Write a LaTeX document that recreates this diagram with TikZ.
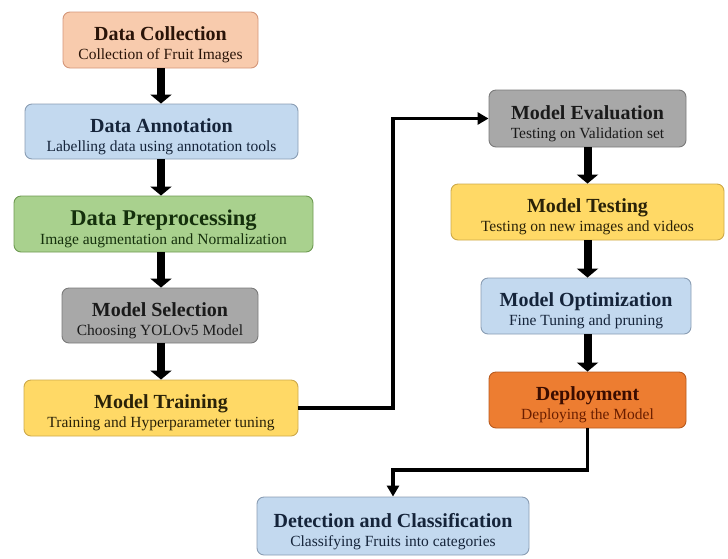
\documentclass[tikz,border=0pt]{standalone}
\usepackage{fontspec}
\setmainfont{Liberation Serif}
\usetikzlibrary{arrows.meta}

% box fills, borders and text colours
\definecolor{peachF}{HTML}{F8CBAD}\definecolor{peachD}{HTML}{D4977A}\definecolor{peachT}{HTML}{2A1408}
\definecolor{blueF}{HTML}{C3D9EF}\definecolor{blueD}{HTML}{8A9DB3}\definecolor{blueT}{HTML}{15243A}
\definecolor{greenF}{HTML}{A9D18E}\definecolor{greenD}{HTML}{6E9A52}\definecolor{greenT}{HTML}{15300C}
\definecolor{grayF}{HTML}{A8A8A8}\definecolor{grayD}{HTML}{7A7A7A}\definecolor{grayT}{HTML}{1A1A1A}
\definecolor{yellowF}{HTML}{FFD966}\definecolor{yellowD}{HTML}{CDA94A}\definecolor{yellowT}{HTML}{2A2208}
\definecolor{orangeF}{HTML}{ED7D31}\definecolor{orangeD}{HTML}{B85A1E}\definecolor{orangeT}{HTML}{3A0C00}
\definecolor{orangeS}{HTML}{6A1E00}

% title line and description line of a stage box
\newcommand{\stagetext}[2]{{\fontsize{20}{19}\selectfont\bfseries #1}\\{#2}}

\tikzset{
  stage/.style={rectangle, rounded corners=7pt, line width=0.9pt, align=center,
    inner sep=0pt, minimum height=56pt, font=\fontsize{15.5}{19}\selectfont,
    text depth=0pt},
  boxtext/.style={yshift=-3.5pt},
  peach/.style={stage, fill=peachF, draw=peachD, text=peachT},
  lblue/.style={stage, fill=blueF, draw=blueD, text=blueT},
  green/.style={stage, fill=greenF, draw=greenD, text=greenT},
  grey/.style={stage, fill=grayF, draw=grayD, text=grayT},
  yellow/.style={stage, fill=yellowF, draw=yellowD, text=yellowT},
  orange/.style={stage, fill=orangeF, draw=orangeD, text=orangeT},
  flow/.style={line width=8pt, -{Triangle[width=21pt,length=9pt]}},
  link/.style={line width=3.8pt, line join=miter, -{Triangle[width=12pt,length=11pt]}}
}

\begin{document}
\begin{tikzpicture}[x=1pt, y=-1pt]
\useasboundingbox (0,0) rectangle (728,558);

% stage boxes: the frame is drawn by the node, the text sits slightly low
\newcommand{\stage}[6]{%
  \node[#1, minimum width=#3, minimum height=#4] (#2) at #5 {};
  \node[#1, draw=none, fill=none, minimum width=#3, minimum height=#4, yshift=-3.5pt] (#2-t) at #5 {#6};}

% left column
\stage{peach}{dc}{195pt}{56pt}{(160.5,40)}{\stagetext{Data Collection}{Collection of Fruit Images}}
\stage{lblue}{da}{273pt}{55pt}{(161.5,131.5)}{\stagetext{Data Annotation}{Labelling data using annotation tools}}
\stage{green}{dp}{299pt}{56pt}{(163.5,224)}{\stagetext{\fontsize{22.5}{19}\selectfont Data Preprocessing}{Image augmentation and Normalization}}
\stage{grey}{ms}{196pt}{55pt}{(160,315.5)}{\stagetext{Model Selection}{Choosing YOLOv5 Model}}
\stage{yellow}{mt}{274pt}{56pt}{(161,408)}{\stagetext{Model Training}{Training and Hyperparameter tuning}}

% right column
\stage{grey}{me}{197pt}{57pt}{(587.5,118.5)}{\stagetext{Model Evaluation}{Testing on Validation set}}
\stage{yellow}{mx}{273pt}{56pt}{(587.5,212)}{\stagetext{Model Testing}{Testing on new images and videos}}
\stage{lblue}{mo}{210pt}{56pt}{(586,306)}{\stagetext{Model Optimization}{Fine Tuning and pruning}}
\stage{orange}{dep}{197pt}{56pt}{(587.5,400)}{\stagetext{Deployment}{\color{orangeS}Deploying the Model}}

% final stage
\stage{lblue}{det}{272pt}{58pt}{(393,526)}{\stagetext{Detection and Classification}{Classifying Fruits into categories}}

% downward flow, left column
\draw[flow] (dc.south -| 161,0) -- (da.north -| 161,0);
\draw[flow] (da.south -| 161,0) -- (dp.north -| 161,0);
\draw[flow] (dp.south -| 161,0) -- (ms.north -| 161,0);
\draw[flow] (ms.south -| 161,0) -- (mt.north -| 161,0);

% downward flow, right column
\draw[flow] (me.south) -- (me.south |- mx.north);
\draw[flow] (mx.south -| me.south) -- (me.south |- mo.north);
\draw[flow] (mo.south -| me.south) -- (me.south |- dep.north);

% hand-over between the columns
\coordinate (up) at (393,408);
\draw[link] (mt.east) -- (up) |- (me.west);
\coordinate (turn) at (dep.south |- 0,470);
\draw[link] (dep.south) -- (turn) -| (det.north);
\end{tikzpicture}
\end{document}
